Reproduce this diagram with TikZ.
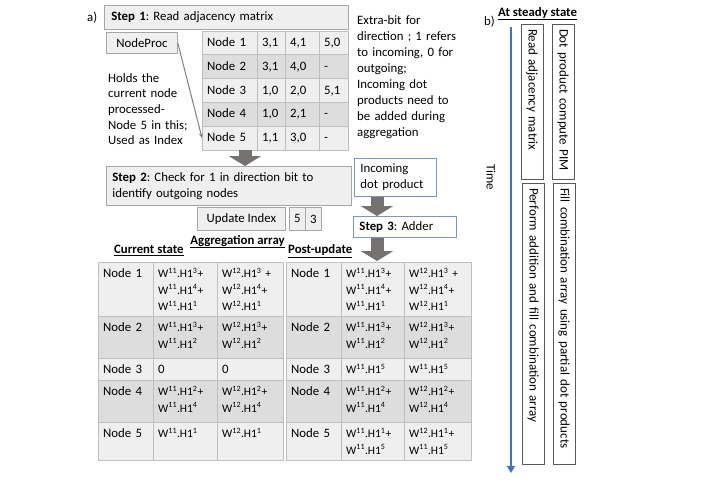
\documentclass[tikz,border=0pt]{standalone}
\usepackage{fontspec}
\setmainfont{Carlito}
\usetikzlibrary{arrows.meta,calc}
\definecolor{boxfill}{HTML}{EFEFEF}
\definecolor{boxline}{HTML}{A6A6A6}
\definecolor{rowlt}{HTML}{EFEFEF}
\definecolor{rowdk}{HTML}{DDDDDD}
\definecolor{tline}{HTML}{BFBFBF}
\definecolor{arrowgray}{HTML}{767171}
\definecolor{blueline}{HTML}{7A95CB}
\definecolor{timeblue}{HTML}{4472C4}
\definecolor{darkline}{HTML}{595959}
\definecolor{procgray}{HTML}{7F7F7F}
\newcommand\mainsz{\fontsize{12.8}{15.7}\selectfont\frenchspacing}
\newcommand\aggsz{\fontsize{11.5}{16.5}\selectfont\frenchspacing}
\newcommand\vsz{\fontsize{13}{16}\selectfont\frenchspacing}
\newcommand\wt[3]{W\textsuperscript{#1}.H1\textsuperscript{#2}#3}
% name x1 y1 x2 y2 fill text textstyle
\newcommand\mkcell[8]{%
  \node[cellframe, fill=#6, minimum width={#4-#2}, minimum height={#5-#3}, anchor=north west] (#1) at (#2,#3) {};
  \node[celltext, #8, text width={#4-#2-10}, anchor=base west] (#1t) at ({#2+5},{#3+15.5}) {#7};
}
\begin{document}
\frenchspacing
\begin{tikzpicture}[x=1pt,y=-1pt,
  every node/.style={font=\mainsz, text=black, inner sep=0pt},
  graybox/.style={draw=boxline, fill=boxfill, line width=0.8pt, anchor=north west},
  bluebox/.style={draw=blueline, fill=white, line width=0.9pt, anchor=north west, align=left, inner xsep=6pt},
  cellframe/.style={draw=tline, line width=0.8pt, inner sep=0pt, outer sep=0pt},
  celltext/.style={align=left, inner sep=0pt},
  adj/.style={font=\mainsz},
  lab/.style={font=\mainsz},
  agg/.style={font=\aggsz},
  vbox/.style={draw=darkline, fill=white, line width=0.9pt, align=left, inner xsep=5pt, inner ysep=0pt, minimum height=22pt, rotate=-90, font=\vsz},
  blockarr/.style={draw=arrowgray, line width=13pt, -{Triangle[width=32pt,length=10pt]}},
  timearr/.style={draw=timeblue, line width=2pt, -{Triangle[width=8pt,length=7pt]}},
  procline/.style={draw=procgray, line width=1pt, -{Stealth[length=5pt,width=4pt]}}
]
\useasboundingbox (0,0) rectangle (721,490);

% ---- part a
\node[anchor=base west] (alab) at (87,21) {a)};
\node[graybox, minimum width=244pt, minimum height=24pt, text width=230pt, inner xsep=7pt, align=left] (step1) at (104,5) {\textbf{Step 1}: Read adjacency matrix};
\node[graybox, minimum width=71pt, minimum height=21pt] (nodeproc) at (106,32) {NodeProc};

% adjacency table
\mkcell{a1n}{202}{31}{257}{54.8}{rowlt}{Node 1}{adj}
\mkcell{a1a}{257}{31}{285}{54.8}{rowlt}{3,1}{adj}
\mkcell{a1b}{285}{31}{319}{54.8}{rowlt}{4,1}{adj}
\mkcell{a1c}{319}{31}{348}{54.8}{rowlt}{5,0}{adj}
\mkcell{a2n}{202}{54.8}{257}{78.6}{rowdk}{Node 2}{adj}
\mkcell{a2a}{257}{54.8}{285}{78.6}{rowdk}{3,1}{adj}
\mkcell{a2b}{285}{54.8}{319}{78.6}{rowdk}{4,0}{adj}
\mkcell{a2c}{319}{54.8}{348}{78.6}{rowdk}{-}{adj}
\mkcell{a3n}{202}{78.6}{257}{102.4}{rowlt}{Node 3}{adj}
\mkcell{a3a}{257}{78.6}{285}{102.4}{rowlt}{1,0}{adj}
\mkcell{a3b}{285}{78.6}{319}{102.4}{rowlt}{2,0}{adj}
\mkcell{a3c}{319}{78.6}{348}{102.4}{rowlt}{5,1}{adj}
\mkcell{a4n}{202}{102.4}{257}{126.2}{rowdk}{Node 4}{adj}
\mkcell{a4a}{257}{102.4}{285}{126.2}{rowdk}{1,0}{adj}
\mkcell{a4b}{285}{102.4}{319}{126.2}{rowdk}{2,1}{adj}
\mkcell{a4c}{319}{102.4}{348}{126.2}{rowdk}{-}{adj}
\mkcell{a5n}{202}{126.2}{257}{150}{rowlt}{Node 5}{adj}
\mkcell{a5a}{257}{126.2}{285}{150}{rowlt}{1,1}{adj}
\mkcell{a5b}{285}{126.2}{319}{150}{rowlt}{3,0}{adj}
\mkcell{a5c}{319}{126.2}{348}{150}{rowlt}{-}{adj}

\node[anchor=base west, text width=95pt, align=left] (holds) at (108,82) {Holds the\\current node\\processed-\\Node 5 in this;\\Used as Index};
\node[anchor=base west, text width=125pt, align=left, font=\fontsize{12.8}{16.1}\selectfont\frenchspacing] (extra) at (357,24) {Extra-bit for\\direction ; 1 refers\\to incoming, 0 for\\outgoing;\\Incoming dot\\products need to\\be added during\\aggregation};

\draw[procline] (nodeproc.east) -- (a5n.west);

\node[graybox, minimum width=245pt, minimum height=39pt, text width=233pt, inner xsep=6pt, align=left] (step2) at (106,166) {\textbf{Step 2}: Check for 1 in direction bit to\\identify outgoing nodes};
\coordinate (ar1) at (245,150);
\draw[blockarr] (ar1) -- (ar1 |- step2.north);

\node[graybox, minimum width=88pt, minimum height=23pt] (upd) at (197,207) {Update Index};
\node[graybox, minimum width=16pt, minimum height=23pt] (idx5) at (289,207) {5};
\node[graybox, minimum width=16pt, minimum height=23pt] (idx3) at (305,207) {3};

\node[bluebox, minimum width=82pt, minimum height=38pt, text width=70pt] (incoming) at (354,158) {Incoming\\dot product};
\node[bluebox, minimum width=103pt, minimum height=21pt, text width=91pt] (step3) at (353,216) {\textbf{Step 3}: Adder};

\node[anchor=base] (agglab) at (237.5,244) {\textbf{\underline{Aggregation array}}};
\node[anchor=base west] (curlab) at (114,253.5) {\textbf{\underline{Current state}}};
\node[anchor=base west] (postlab) at (288,253.5) {\textbf{\underline{Post-update}}};

% current state table
\mkcell{c1n}{98}{262}{153}{316}{rowlt}{Node 1}{lab}
\mkcell{c1a}{153}{262}{217}{316}{rowlt}{\wt{11}{3}{+}\\\wt{11}{4}{+}\\\wt{11}{1}{}}{agg}
\mkcell{c1b}{217}{262}{283}{316}{rowlt}{\wt{12}{3}{ +}\\\wt{12}{4}{+}\\\wt{12}{1}{}}{agg}
\mkcell{c2n}{98}{316}{153}{358}{rowdk}{Node 2}{lab}
\mkcell{c2a}{153}{316}{217}{358}{rowdk}{\wt{11}{3}{+}\\\wt{11}{2}{}}{agg}
\mkcell{c2b}{217}{316}{283}{358}{rowdk}{\wt{12}{3}{+}\\\wt{12}{2}{}}{agg}
\mkcell{c3n}{98}{358}{153}{380}{rowlt}{Node 3}{lab}
\mkcell{c3a}{153}{358}{217}{380}{rowlt}{0}{lab}
\mkcell{c3b}{217}{358}{283}{380}{rowlt}{0}{lab}
\mkcell{c4n}{98}{380}{153}{422}{rowdk}{Node 4}{lab}
\mkcell{c4a}{153}{380}{217}{422}{rowdk}{\wt{11}{2}{+}\\\wt{11}{4}{}}{agg}
\mkcell{c4b}{217}{380}{283}{422}{rowdk}{\wt{12}{2}{+}\\\wt{12}{4}{}}{agg}
\mkcell{c5n}{98}{422}{153}{460}{rowlt}{Node 5}{lab}
\mkcell{c5a}{153}{422}{217}{460}{rowlt}{\wt{11}{1}{}}{agg}
\mkcell{c5b}{217}{422}{283}{460}{rowlt}{\wt{12}{1}{}}{agg}

% post-update table
\mkcell{p1n}{286}{262}{341}{316}{rowlt}{Node 1}{lab}
\mkcell{p1a}{341}{262}{404}{316}{rowlt}{\wt{11}{3}{+}\\\wt{11}{4}{+}\\\wt{11}{1}{}}{agg}
\mkcell{p1b}{404}{262}{471}{316}{rowlt}{\wt{12}{3}{ +}\\\wt{12}{4}{+}\\\wt{12}{1}{}}{agg}
\mkcell{p2n}{286}{316}{341}{358}{rowdk}{Node 2}{lab}
\mkcell{p2a}{341}{316}{404}{358}{rowdk}{\wt{11}{3}{+}\\\wt{11}{2}{}}{agg}
\mkcell{p2b}{404}{316}{471}{358}{rowdk}{\wt{12}{3}{+}\\\wt{12}{2}{}}{agg}
\mkcell{p3n}{286}{358}{341}{380}{rowlt}{Node 3}{lab}
\mkcell{p3a}{341}{358}{404}{380}{rowlt}{\wt{11}{5}{}}{agg}
\mkcell{p3b}{404}{358}{471}{380}{rowlt}{\wt{11}{5}{}}{agg}
\mkcell{p4n}{286}{380}{341}{422}{rowdk}{Node 4}{lab}
\mkcell{p4a}{341}{380}{404}{422}{rowdk}{\wt{11}{2}{+}\\\wt{11}{4}{}}{agg}
\mkcell{p4b}{404}{380}{471}{422}{rowdk}{\wt{12}{2}{+}\\\wt{12}{4}{}}{agg}
\mkcell{p5n}{286}{422}{341}{460}{rowlt}{Node 5}{lab}
\mkcell{p5a}{341}{422}{404}{460}{rowlt}{\wt{11}{1}{+}\\\wt{11}{5}{}}{agg}
\mkcell{p5b}{404}{422}{471}{460}{rowlt}{\wt{12}{1}{+}\\\wt{11}{5}{}}{agg}

\coordinate (arx) at (377,0);
\draw[blockarr] (incoming.south -| arx) -- (step3.north -| arx);
\draw[blockarr] (step3.south -| arx) -- ($(p1a.north -| arx)+(0,-1)$);

% ---- part b
\node[anchor=base west] (blab) at (484,25) {b)};
\node[anchor=base west] (steady) at (498,16) {\textbf{\underline{At steady state}}};
\node[rotate=-90] (time) at (491,177) {Time};
\coordinate (tstart) at (511,27);
\coordinate (tend) at (511,473);
\draw[timearr] (tstart) -- (tend);
\node[vbox, text width=145pt] (rb1) at (532,101.5) {Read adjacency matrix};
\node[vbox, text width=145pt] (rb2) at (563,101.5) {Dot product compute PIM};
\node[vbox, text width=271pt] (rb3) at (533,323.5) {Perform addition and fill combination array};
\node[vbox, text width=271pt] (rb4) at (564,323.5) {Fill combination array using partial dot products};
\end{tikzpicture}
\end{document}
